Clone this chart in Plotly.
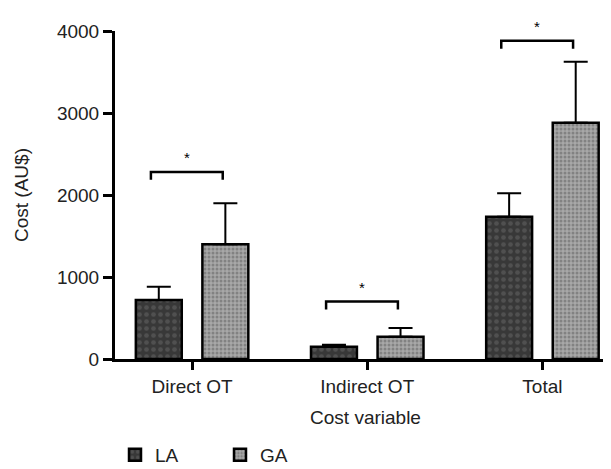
import plotly.graph_objects as go

categories = ["Direct OT", "Indirect OT", "Total"]
la_mean = [720, 150, 1735]
la_err = [160, 25, 285]
ga_mean = [1400, 271, 2880]
ga_err = [500, 107, 745]
sig_labels = ["*", "*", "*"]
sig_heights = [2280, 700, 3880]
y_ticks = [0, 1000, 2000, 3000, 4000]

positions = list(range(len(categories)))
FONT = "Liberation Sans, Arial, Helvetica, sans-serif"

fig = go.Figure()
fig.add_trace(go.Bar(
    name="LA", x=positions, y=la_mean,
    marker=dict(color="#3a3a3a", line=dict(color="black", width=2.5),
                pattern=dict(shape=".", fgcolor="#686868", bgcolor="#383838", size=7, solidity=0.35)),
    error_y=dict(type="data", symmetric=False, array=la_err, arrayminus=[0] * len(la_err),
                 color="black", thickness=2, width=12),
))
fig.add_trace(go.Bar(
    name="GA", x=positions, y=ga_mean,
    marker=dict(color="#a0a0a0", line=dict(color="black", width=2.5),
                pattern=dict(shape=".", fgcolor="#5c5c5c", bgcolor="#a8a8a8", size=4, solidity=0.45)),
    error_y=dict(type="data", symmetric=False, array=ga_err, arrayminus=[0] * len(ga_err),
                 color="black", thickness=2, width=12),
))

# significance brackets
left_off, right_off, drop = -0.235, 0.175, 95
for p, h, lab in zip(positions, sig_heights, sig_labels):
    fig.add_shape(type="path",
                  path=f"M {p+left_off},{h-drop} L {p+left_off},{h} L {p+right_off},{h} L {p+right_off},{h-drop}",
                  xref="x", yref="y", line=dict(color="black", width=2.5))
    fig.add_annotation(x=p + (left_off + right_off) / 2, y=h, text=lab, showarrow=False,
                       yanchor="bottom", yshift=4, font=dict(size=15, color="black", family=FONT))

fig.update_layout(
    width=611, height=469,
    margin=dict(l=107, r=3, t=23, b=107),
    paper_bgcolor="white", plot_bgcolor="white",
    barmode="group", bargap=0.24, bargroupgap=0.31,
    font=dict(family=FONT, size=19, color="#222"),
    showlegend=True,
    legend=dict(orientation="h", x=0.0, xanchor="left", y=-0.292, yanchor="middle",
                font=dict(size=19), entrywidth=60, traceorder="normal"),
)
fig.update_xaxes(
    range=[-0.44, 2.42], tickmode="array", tickvals=positions, ticktext=categories,
    showline=True, linecolor="black", linewidth=3, showgrid=False, zeroline=False,
    ticks="outside", ticklen=8, tickwidth=2.5, tickcolor="black",
    title=dict(text="Cost variable", font=dict(size=19), standoff=15),
)
fig.update_yaxes(
    range=[0, 4000], tickmode="array", tickvals=y_ticks,
    showline=True, linecolor="black", linewidth=3, showgrid=False, zeroline=False,
    ticks="outside", ticklen=9, tickwidth=2.5, tickcolor="black",
    title=dict(text="Cost (AU$)", font=dict(size=19), standoff=24),
)

fig.write_html("out.html")
